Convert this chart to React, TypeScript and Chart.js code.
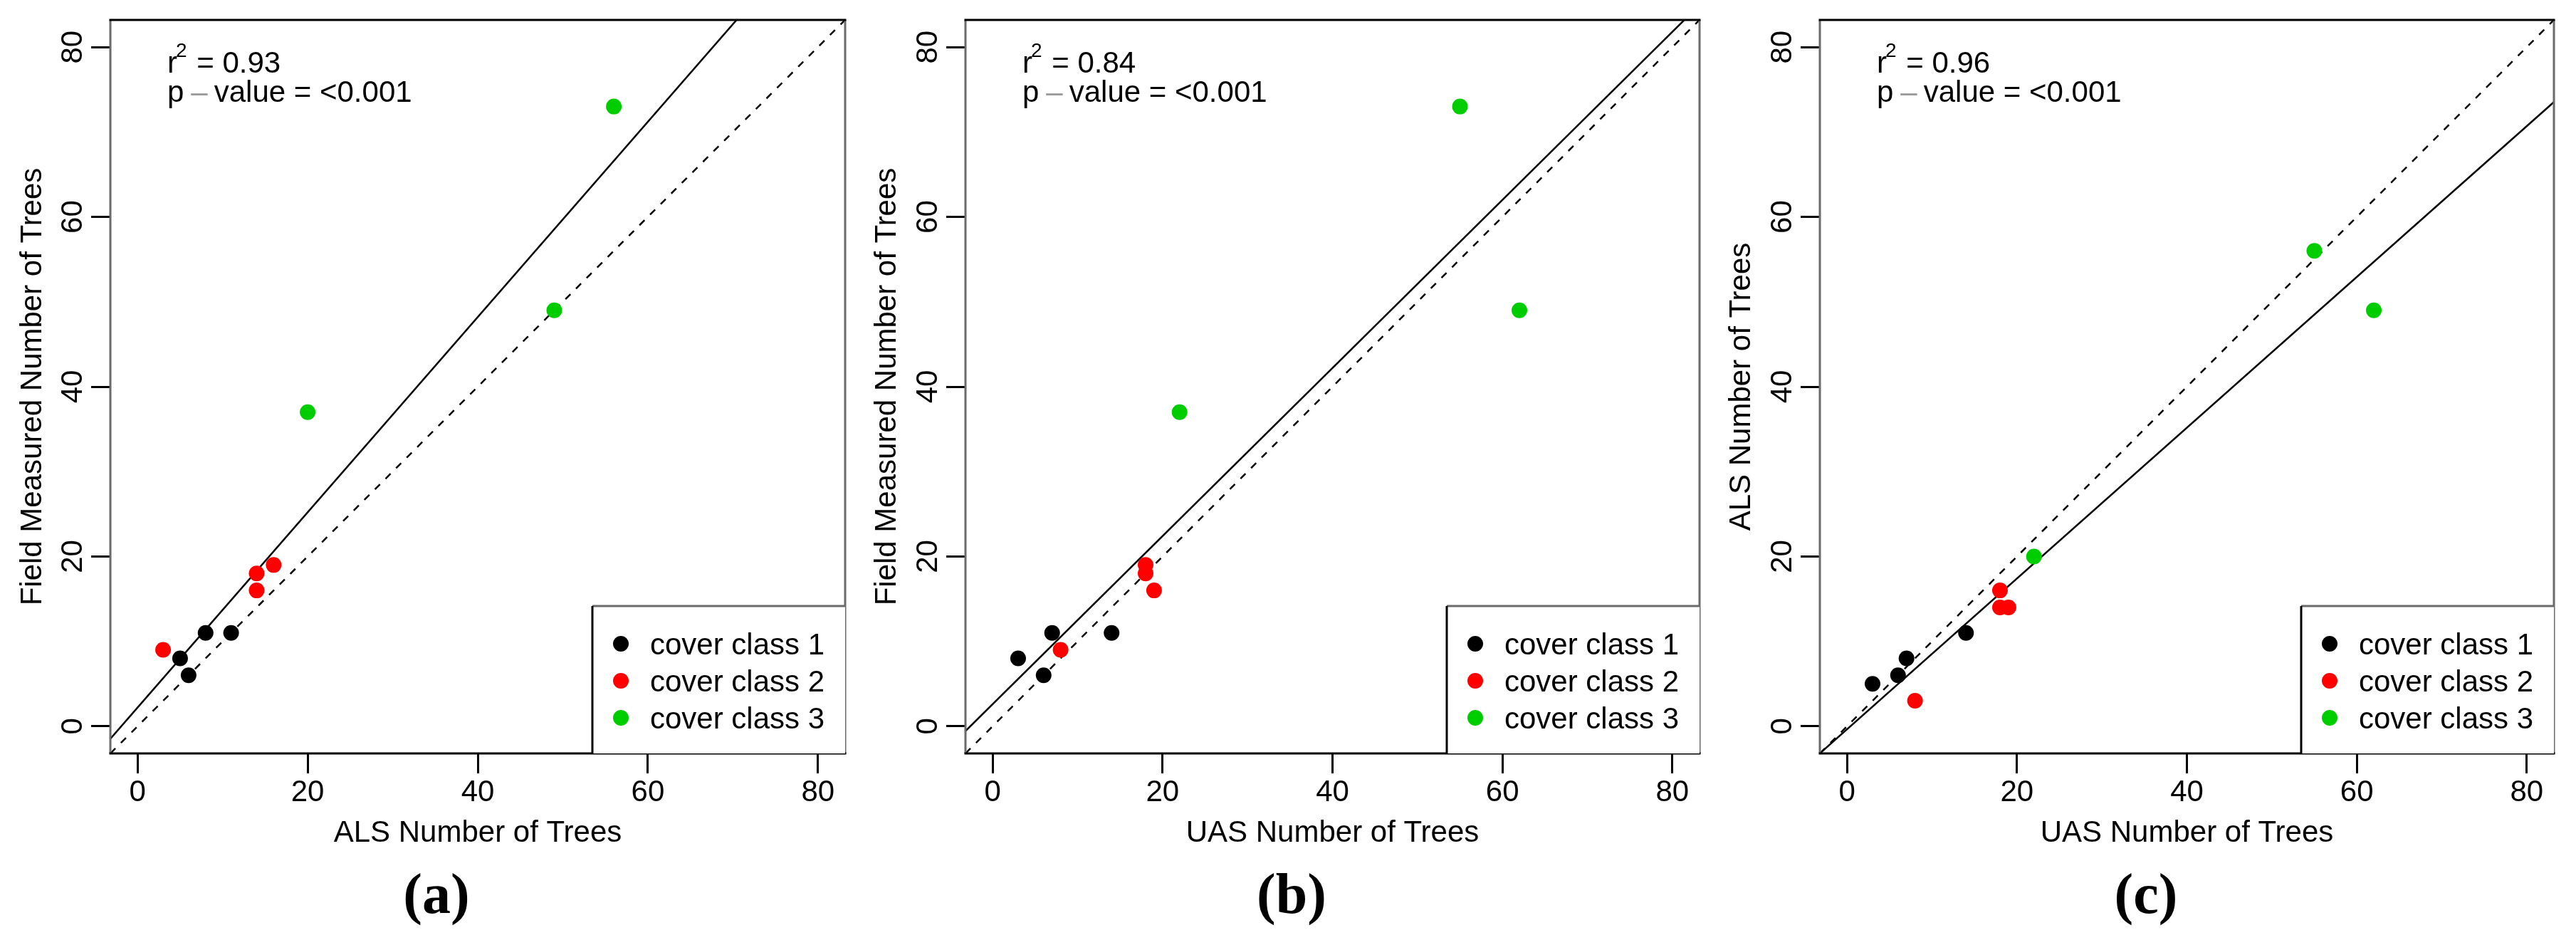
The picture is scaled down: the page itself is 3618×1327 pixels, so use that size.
import React, { useEffect, useRef } from "react";
import { Chart, registerables } from "chart.js";

Chart.register(...registerables);

// ---------------- data ----------------
const AXIS_MIN = -3.2;
const AXIS_MAX = 83.2;
const tickValues = [0, 20, 40, 60, 80];

const xTitles = ["ALS Number of Trees", "UAS Number of Trees", "UAS Number of Trees"];
const yTitles = ["Field Measured Number of Trees", "Field Measured Number of Trees", "ALS Number of Trees"];
const panelTags = ["(a)", "(b)", "(c)"];
const r2Values = ["0.93", "0.84", "0.96"];
const pValues = ["<0.001", "<0.001", "<0.001"];

const classNames = ["cover class 1", "cover class 2", "cover class 3"];
const classColors = ["#000000", "#FF0000", "#00CD00"];

// panel (a): ALS (x) vs field measured (y)
const aClass1X = [5, 6, 8, 11];
const aClass1Y = [8, 6, 11, 11];
const aClass2X = [3, 14, 14, 16];
const aClass2Y = [9, 16, 18, 19];
const aClass3X = [20, 49, 56];
const aClass3Y = [37, 49, 73];

// panel (b): UAS (x) vs field measured (y)
const bClass1X = [3, 6, 7, 14];
const bClass1Y = [8, 6, 11, 11];
const bClass2X = [8, 18, 18, 19];
const bClass2Y = [9, 18, 19, 16];
const bClass3X = [22, 55, 62];
const bClass3Y = [37, 73, 49];

// panel (c): UAS (x) vs ALS (y)
const cClass1X = [3, 6, 7, 14];
const cClass1Y = [5, 6, 8, 11];
const cClass2X = [8, 18, 18, 19];
const cClass2Y = [3, 16, 14, 14];
const cClass3X = [22, 55, 62];
const cClass3Y = [20, 56, 49];

// fitted regression lines (intercept, slope)
const fitIntercepts = [2.2, 2.6, -0.35];
const fitSlopes = [1.15, 0.99, 0.888];

const panelXs = [
  [aClass1X, aClass2X, aClass3X],
  [bClass1X, bClass2X, bClass3X],
  [cClass1X, cClass2X, cClass3X],
];
const panelYs = [
  [aClass1Y, aClass2Y, aClass3Y],
  [bClass1Y, bClass2Y, bClass3Y],
  [cClass1Y, cClass2Y, cClass3Y],
];

// ---------------- styling / layout ----------------
const SANS = '"Liberation Sans", Arial, Helvetica, sans-serif';
const SERIF = '"Liberation Serif", "Times New Roman", serif';
const CANVAS_W = 1200;
const CANVAS_H = 1327;
const panelLefts = [0, 1200, 2400];
const yAxisWidths = [155, 156, 156];

const decorPlugin = {
  id: "decor",
  afterDraw(chart: any, _args: any, opts: any) {
    const p = opts.panel as number;
    const { ctx, chartArea: ca } = chart;
    ctx.save();

    // plot box
    ctx.lineWidth = 3;
    ctx.strokeStyle = "#6b6b6b";
    ctx.beginPath();
    ctx.moveTo(ca.left, ca.top);
    ctx.lineTo(ca.left, ca.bottom);
    ctx.moveTo(ca.right, ca.top);
    ctx.lineTo(ca.right, ca.bottom);
    ctx.stroke();
    ctx.strokeStyle = "#000";
    ctx.beginPath();
    ctx.moveTo(ca.left - 1.5, ca.top);
    ctx.lineTo(ca.right + 1.5, ca.top);
    ctx.moveTo(ca.left - 1.5, ca.bottom);
    ctx.lineTo(ca.right + 1.5, ca.bottom);
    ctx.stroke();

    // r^2 and p-value annotation
    ctx.fillStyle = "#000";
    ctx.textBaseline = "alphabetic";
    ctx.textAlign = "left";
    const x0 = ca.left + 80;
    const big = `42px ${SANS}`;
    const small = `28px ${SANS}`;
    ctx.font = big;
    ctx.fillText("r", x0, ca.top + 74);
    const wr = ctx.measureText("r").width;
    ctx.font = small;
    const x2 = x0 + wr - 2;
    ctx.fillText("2", x2, ca.top + 52);
    const w2 = ctx.measureText("2").width;
    ctx.font = big;
    ctx.fillText(" = " + r2Values[p], x2 + w2 + 2, ca.top + 74);

    ctx.fillText("p", x0, ca.top + 115);
    const wp = ctx.measureText("p").width;
    ctx.fillStyle = "#9a9a9a";
    ctx.fillText("\u2013", x0 + wp + 10, ca.top + 115);
    const wd = ctx.measureText("\u2013").width;
    ctx.fillStyle = "#000";
    ctx.fillText("value = " + pValues[p], x0 + wp + 10 + wd + 9, ca.top + 115);

    // legend
    const lx = ca.right - 355;
    const ly = ca.bottom - 207;
    ctx.fillStyle = "#fff";
    ctx.fillRect(lx, ly, ca.right - lx, ca.bottom - ly);
    ctx.lineWidth = 3;
    ctx.strokeStyle = "#6b6b6b";
    ctx.beginPath();
    ctx.moveTo(lx, ly);
    ctx.lineTo(ca.right, ly);
    ctx.stroke();
    ctx.strokeStyle = "#000";
    ctx.beginPath();
    ctx.moveTo(lx, ly);
    ctx.lineTo(lx, ca.bottom);
    ctx.stroke();
    const legendSets = chart.data.datasets.filter((d: any) => d.isClass);
    legendSets.forEach((d: any, i: number) => {
      const ry = ly + 53 + i * 52;
      ctx.fillStyle = d.backgroundColor;
      ctx.beginPath();
      ctx.arc(lx + 40, ry, 11, 0, Math.PI * 2);
      ctx.fill();
      ctx.fillStyle = "#000";
      ctx.font = big;
      ctx.fillText(d.label, lx + 81, ry + 15);
    });

    // panel tag
    ctx.font = `bold 80px ${SERIF}`;
    ctx.textAlign = "center";
    ctx.fillStyle = "#000";
    ctx.fillText(panelTags[p], ca.left + 458, ca.bottom + 224);

    ctx.restore();
  },
};

function buildConfig(p: number): any {
  const classSets = classNames.map((name, k) => ({
    label: name,
    isClass: true,
    data: panelXs[p][k].map((x, i) => ({ x, y: panelYs[p][k][i] })),
    backgroundColor: classColors[k],
    borderColor: classColors[k],
    pointRadius: 11,
    pointHoverRadius: 11,
    pointBorderWidth: 0,
    showLine: false,
    order: 0,
  }));
  const fitLine = {
    label: "fit",
    data: [
      { x: AXIS_MIN, y: fitIntercepts[p] + fitSlopes[p] * AXIS_MIN },
      { x: AXIS_MAX, y: fitIntercepts[p] + fitSlopes[p] * AXIS_MAX },
    ],
    showLine: true,
    borderColor: "#000",
    borderWidth: 2.5,
    pointRadius: 0,
    fill: false,
    order: 1,
  };
  const oneToOne = {
    label: "1:1",
    data: [
      { x: AXIS_MIN, y: AXIS_MIN },
      { x: AXIS_MAX, y: AXIS_MAX },
    ],
    showLine: true,
    borderColor: "#000",
    borderWidth: 2.5,
    borderDash: [10, 11],
    pointRadius: 0,
    fill: false,
    order: 1,
  };
  const setTicks = (s: any) => {
    s.ticks = tickValues.map((v) => ({ value: v }));
  };
  return {
    type: "scatter",
    data: { datasets: [...classSets, fitLine, oneToOne] },
    options: {
      animation: false,
      responsive: false,
      devicePixelRatio: 1,
      events: [],
      layout: { padding: { top: 28, right: 13, bottom: 0, left: 0 } },
      plugins: {
        legend: { display: false },
        tooltip: { enabled: false },
        decor: { panel: p },
      },
      scales: {
        x: {
          type: "linear",
          min: AXIS_MIN,
          max: AXIS_MAX,
          afterBuildTicks: setTicks,
          afterFit: (s: any) => {
            s.height = 269;
          },
          ticks: {
            font: { size: 42, family: SANS },
            color: "#000",
            padding: 2,
            maxRotation: 0,
            minRotation: 0,
            autoSkip: false,
          },
          grid: {
            display: true,
            drawOnChartArea: false,
            drawTicks: true,
            tickLength: 28,
            tickWidth: 3,
            tickColor: "#000",
          },
          border: { display: false },
          title: {
            display: true,
            text: xTitles[p],
            font: { size: 42, family: SANS },
            color: "#000",
            padding: { top: 0, bottom: 131 },
          },
        },
        y: {
          type: "linear",
          min: AXIS_MIN,
          max: AXIS_MAX,
          afterBuildTicks: setTicks,
          afterFit: (s: any) => {
            s.width = yAxisWidths[p];
          },
          ticks: {
            font: { size: 42, family: SANS },
            color: "#000",
            padding: 1,
            minRotation: 90,
            maxRotation: 90,
            crossAlign: "center",
            autoSkip: false,
          },
          grid: {
            display: true,
            drawOnChartArea: false,
            drawTicks: true,
            tickLength: 27,
            tickWidth: 3,
            tickColor: "#000",
          },
          border: { display: false },
          title: {
            display: true,
            text: yTitles[p],
            font: { size: 42, family: SANS },
            color: "#000",
            padding: { top: 21, bottom: 0 },
          },
        },
      },
    },
    plugins: [decorPlugin],
  };
}

function Panel({ index }: { index: number }) {
  const ref = useRef<HTMLCanvasElement | null>(null);
  useEffect(() => {
    if (!ref.current) return;
    const chart = new Chart(ref.current, buildConfig(index));
    return () => chart.destroy();
  }, [index]);
  return (
    <canvas
      ref={ref}
      width={CANVAS_W}
      height={CANVAS_H}
      style={{
        position: "absolute",
        left: panelLefts[index],
        top: 0,
        width: CANVAS_W,
        height: CANVAS_H,
        display: "block",
      }}
    />
  );
}

export default function App() {
  return (
    <div
      style={{
        position: "absolute",
        left: 0,
        top: 0,
        width: 3618,
        height: 1327,
        background: "#fff",
        overflow: "hidden",
      }}
    >
      {[0, 1, 2].map((i) => (
        <Panel key={i} index={i} />
      ))}
    </div>
  );
}
